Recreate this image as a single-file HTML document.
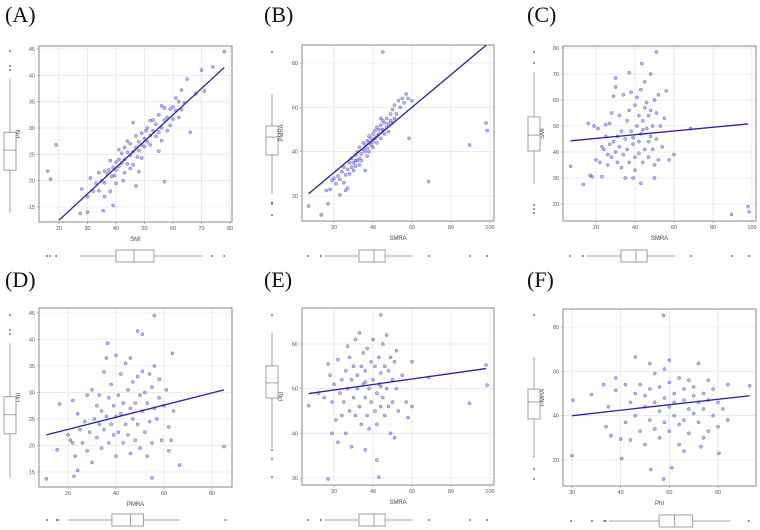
<!DOCTYPE html>
<html><head><meta charset="utf-8">
<style>
html,body{margin:0;padding:0;background:#fff;}
svg{display:block;}
.ttl{font-family:"Liberation Serif",serif;font-size:22px;fill:#111;}
.tk{font-family:"Liberation Sans",sans-serif;font-size:5.5px;fill:#555;}
.lb{font-family:"Liberation Sans",sans-serif;font-size:6px;fill:#444;}
</style></head>
<body>
<svg id="chart" width="760" height="530" viewBox="0 0 760 530"></svg>
<script>
// ---- data ----
const panelIds = ['A','B','C','D','E','F'];
const xLabels = ['SMI','SMRA','SMRA','PMRA','SMRA','PhI'];
const yLabels = ['PhI','PMRA','SMI','PhI','PhI','PMRA'];
const xTicksA = [20,30,40,50,60,70,80], yTicksA = [15,20,25,30,35,40,45];
const xTicksB = [20,40,60,80,100], yTicksB = [20,40,60,80];
const xTicksC = [20,40,60,80,100], yTicksC = [20,30,40,50,60,70,80];
const xTicksD = [20,40,60,80], yTicksD = [15,20,25,30,35,40,45];
const xTicksE = [20,40,60,80,100], yTicksE = [30,40,50,60];
const xTicksF = [30,40,50,60], yTicksF = [20,40,60,80];
const pointsA = [[16,21.8],[17,20.3],[19,26.8],[27.5,13.8],[30,14],[35.5,14.3],[39,15.3],[57,19.8],[47,19],[48,21.7],[66,29.2],[78,44.5],[70,41],[74,41.6],[68,36.5],[65,39.3],[71,37],[63,37.2],[61,35.7],[28,18.4],[30,17],[31,20.5],[32,18],[33,19.5],[34,18.1],[34,21.5],[35,20],[36,17],[36,19.6],[37,21.3],[37.5,22],[38,18],[38.5,20.8],[39,22.5],[39.5,21],[40,23.5],[40,22],[41,24],[41,22.7],[42,23.3],[42,25.2],[42.5,20],[43,24],[43,26.3],[44,23.2],[44,25.4],[45,24.8],[45,27],[46,25.5],[46,23],[47,26.3],[47,28.5],[47.5,24.5],[48,27.4],[48,25.7],[49,26.8],[49,29],[50,28],[50,26.5],[50.5,29.5],[51,27.4],[51,30],[52,28.6],[52,26.8],[53,29.5],[53,31.5],[54,28.4],[54,30.7],[55,29.2],[55,32.5],[56,30],[56,27.6],[57,31.5],[57,33.8],[58,32],[58,29.5],[59,33.6],[59,30.5],[60,34],[60,31.7],[61,33.3],[62,35],[62,32],[64,34.8],[63,33.5],[46,31],[44,27.5],[40,19.5],[36,21.8],[55,25.6],[49,24.3],[43,21.5],[38,23.8],[52,31.4],[56,34.2],[45,22.3],[41,25.9]];
const pointsB = [[7,15.5],[13.5,11.5],[17,16.5],[23,20.5],[45,85],[58.5,46],[68.5,26.5],[89.5,43],[98,53],[98.5,49.5],[16,22.5],[18,23],[19,27],[20,28],[21,25.5],[22,29],[23,27.5],[24,31],[25,26],[25,33],[26,22.5],[26,29.5],[27,23.5],[27,32],[28,30],[28,35],[29,33],[29,37],[30,31.5],[30,35],[31,38.5],[31,33.5],[32,36],[32,40],[33,37],[33,42],[34,39],[34,36],[35,41],[35,44],[36,40],[36,43],[36,31.5],[37,45],[37,41.5],[38,44],[38,47],[38,40],[39,43],[39,46],[40,48],[40,44.5],[41,46],[41,49.5],[42,47],[42,44],[43,50],[43,48],[44,52],[44,46],[45,50],[45,54],[46,48],[46,53],[47,51],[47,55],[48,52.5],[48,49],[49,54],[49,57],[50,53],[50,59],[51,55],[51,61],[52,57],[53,63],[54,60],[55,64],[56,62],[57,66],[58,64],[60,63],[45,49.5],[42,51],[40,42],[37,38],[33,34],[31,36],[44,55]];
const pointsC = [[7,34.5],[13.5,27.5],[51,78.5],[43.5,74],[89.5,16],[98,19],[98.5,17],[68.5,49],[60,39],[57.5,37],[16,51],[17,31],[18,30.5],[19,50],[20,37],[21,49],[22,36],[23,30.5],[23,42],[24,41],[25,46],[25,50.5],[26,35],[26,39],[27,43],[27,51],[28,38],[28,55],[29,61.5],[29,44],[30,40],[30,65],[30,68.5],[31,46],[31,36],[32,42],[32,54],[33,48],[33,34],[34,62],[34,39],[35,45],[35,30],[36,52],[36,41],[37,70.5],[37,56],[37,36],[38,48],[38,63],[39,43],[39,30],[40,58],[40,38],[40,33],[41,50],[41,61],[42,44],[42,54],[42,39.5],[43,47],[43,64],[43,28],[44,52],[44,36],[45,57],[45,41],[45,67],[46,49],[46,59],[47,44],[47,38],[47,54],[48,70],[48,56],[48,46],[49,50],[49,41],[50,60],[50,35],[51,45],[51,55],[52,62],[52,37],[53,50],[54,42],[55,53],[56,63.5],[50,30],[44,48.5],[39,45.5]];
const pointsD = [[11,13.7],[15.5,19.2],[16.5,27.8],[22.5,14.2],[24,15.3],[66.5,16.3],[85,19.8],[56,44.5],[49,41.6],[51,41],[36.5,39.3],[63.5,37.4],[55,13.9],[20,22],[21,21],[22,20.5],[22,28.5],[23,18],[24,26],[25,23],[26,20.5],[27,24.5],[28,19],[28,29.5],[29,22.5],[30,30.5],[30,16.8],[31,25],[32,21.5],[32,27.5],[33,24],[33,29.5],[34,19.5],[34,26.5],[35,23],[35,33.9],[36,25.5],[36,36.5],[37,20.5],[37,29],[38,24],[38,31.5],[39,22],[39,27.5],[40,25.5],[40,37],[40,18],[41,29.5],[41,22.5],[42,26],[42,33.5],[43,20.5],[43,28],[44,24],[44,35.5],[45,30.5],[45,22],[46,27],[46,18.5],[46,36.5],[47,25],[47,32],[48,28],[48,21],[49,24],[49,33],[50,29.5],[50,19.5],[51,26.5],[51,34],[52,22.5],[52,30],[53,28],[53,18],[54,33.5],[54,24.5],[55,31],[55,20.5],[56,27],[56,35],[57,25],[58,29],[59,21],[60,27.5],[61,30.5],[62,23.5],[63,21],[64,26.5],[62,19],[58,32.5]];
const pointsE = [[7,46.2],[17,29.8],[43,30.2],[42,34],[36,36.3],[44,66.5],[89.5,46.7],[98,55.3],[98.5,50.8],[68.5,52.5],[60,46],[12,49],[15,48],[17,55.5],[18,53],[19,40],[19,47],[20,51],[21,43],[22,56.5],[22,38],[23,49],[24,44],[24,52],[25,47],[26,40],[26,54],[27,50],[27,59.5],[28,45],[28,57],[29,52],[29,37],[30,55],[30,48],[31,61],[31,44],[32,50],[32,53],[33,62.5],[33,46],[34,55],[34,42],[35,51],[35,58],[36,48],[36,54],[37,44],[37,59],[38,50],[38,41],[39,56],[39,47],[40,52],[40,61],[41,45],[41,55],[42,49],[42,42],[43,57],[43,51],[44,46],[44,53.5],[45,60],[45,48],[46,55],[46,44],[47,50],[47,62],[48,54],[48,46],[49,57],[49,40],[50,52],[50,47],[51,56],[51,39],[52,50],[53,45],[55,53],[57,47],[58,43.5],[60,56],[52,58.5],[36,51.5],[44,50.5]];
const pointsF = [[30,22],[30.2,47],[40.2,20.7],[46.2,15.7],[48.8,11.4],[50.5,16.5],[48.8,85.2],[60.2,23],[66.5,53.5],[43,66.5],[34,49.5],[36.5,54],[37,35],[37.5,44],[38,31],[39,57],[39,51.5],[40,29.5],[41,37],[41,54],[42,46],[42,29],[43,40],[43,50],[44,33],[44,54],[45,44],[45,27],[45,49],[46,38],[46,52],[46,63.5],[47,46],[47,34],[47,59],[48,42],[48,53],[48,30],[49,48],[49,37],[49,61],[50,44],[50,55],[50,33],[50,65],[51,40],[51,50],[51,46],[52,57],[52,36],[52,27],[53,47],[53,52],[53,38],[54,43],[54,56],[54,32],[55,49],[55,41],[55,53],[56,46],[56,37],[56,63.5],[56.5,26],[57,50],[57,43],[58,47],[58,56],[58,33],[59,40],[59,52],[60,46],[60,35],[61,43],[62,54],[62,38],[57,30],[53,24]];
// regression line endpoints [x0,x1] and [y0,y1]
const fitXA=[20,78], fitYA=[12.5,41.5];
const fitXB=[7,98], fitYB=[21,88];
const fitXC=[7,98], fitYC=[44.3,50.8];
const fitXD=[11,85], fitYD=[22,30.5];
const fitXE=[7,98], fitYE=[48.9,54.5];
const fitXF=[30,66.5], fitYF=[40,49];
// boxplot stats [lowWhisker,q1,median,q3,highWhisker]
const xBoxA=[27.4,40,46.3,53.3,70.5], xOutA=[15.8,16.8,19,73.7,78];
const yBoxA=[13.9,22,25.8,29.2,39.3], yOutA=[41,41.8,44.6];
const xBoxB=[14.9,32.8,40.5,46.2,60.5], xOutB=[6.7,13.3,68.7,89.7,98.5];
const yBoxB=[20.9,38.5,46.6,51.6,66], yOutB=[11.4,16.4,17,85];
const xBoxC=[14.9,32.8,40.5,46.2,60.5], xOutC=[6.7,13.3,68.7,89.7,98.5];
const yBoxC=[27.7,40.4,46.5,53.5,70.8], yOutC=[16.5,18.1,19.6,74.2,78.5];
const xBoxD=[20,38.3,46.1,51.5,66.5], xOutD=[11.3,15.4,15.9,85.6];
const yBoxD=[13.9,22.2,25.8,29.2,39.3], yOutD=[41,41.8,44.6];
const xBoxE=[14.9,32.8,40.5,46.2,60.5], xOutE=[6.7,13.3,68.7,89.7,98.5];
const yBoxE=[36.7,47.9,51.3,55.1,62.5], yOutE=[30.2,34.3,36.3,66.5];
const xBoxF=[37.6,47.9,51.1,54.8,62.6], xOutF=[29.8,34.1,36.6,36.9,66.3];
const yBoxF=[20.9,38.5,46.2,52,66.5], yOutF=[11.4,16,85.4];

// ---- layout (pixel geometry, not data) ----
const layouts = [
 {tx:5,ty:22,L:39,R:232,T:46,B:222,xa:[20,80],xp:[59,230],ya:[15,45],yp:[207,49],vbx:10,hby:256},
 {tx:264,ty:22,L:302,R:494,T:45,B:221,xa:[20,100],xp:[334,490],ya:[20,80],yp:[196,63],vbx:272,hby:256},
 {tx:527,ty:22,L:563,R:756,T:46,B:221,xa:[20,100],xp:[596,752],ya:[20,80],yp:[204,48],vbx:534,hby:256},
 {tx:5,ty:287,L:39,R:232,T:308,B:487,xa:[20,80],xp:[68,212],ya:[15,45],yp:[472,313],vbx:10,hby:520},
 {tx:264,ty:287,L:302,R:494,T:308,B:485,xa:[20,100],xp:[334,490],ya:[30,60],yp:[478,344],vbx:272,hby:520},
 {tx:527,ty:287,L:563,R:756,T:309,B:486,xa:[30,60],xp:[572,718],ya:[20,80],yp:[460,327],vbx:534,hby:521}
];
const xTicks=[xTicksA,xTicksB,xTicksC,xTicksD,xTicksE,xTicksF];
const yTicks=[yTicksA,yTicksB,yTicksC,yTicksD,yTicksE,yTicksF];
const pts=[pointsA,pointsB,pointsC,pointsD,pointsE,pointsF];
const fx=[fitXA,fitXB,fitXC,fitXD,fitXE,fitXF], fy=[fitYA,fitYB,fitYC,fitYD,fitYE,fitYF];
const xb=[xBoxA,xBoxB,xBoxC,xBoxD,xBoxE,xBoxF], xo=[xOutA,xOutB,xOutC,xOutD,xOutE,xOutF];
const yb=[yBoxA,yBoxB,yBoxC,yBoxD,yBoxE,yBoxF], yo=[yOutA,yOutB,yOutC,yOutD,yOutE,yOutF];

const NS='http://www.w3.org/2000/svg';
const svg=document.getElementById('chart');
function mk(tag,attrs,parent){const e=document.createElementNS(NS,tag);for(const k in attrs)e.setAttribute(k,attrs[k]);(parent||svg).appendChild(e);return e;}

layouts.forEach((g,i)=>{
  const sx=v=>g.xp[0]+(v-g.xa[0])*(g.xp[1]-g.xp[0])/(g.xa[1]-g.xa[0]);
  const sy=v=>g.yp[0]+(v-g.ya[0])*(g.yp[1]-g.yp[0])/(g.ya[1]-g.ya[0]);
  const grp=mk('g',{});
  
  
  const t=mk('text',{x:g.tx,y:g.ty,class:'ttl'},grp); t.textContent='('+panelIds[i]+')';
  
  
  // grid
  xTicks[i].forEach(v=>{
    const l=mk('line',{x1:sx(v),x2:sx(v),y1:g.T,y2:g.B,stroke:'#e6e6e6','stroke-width':0.8},grp);
    
    
    const tl=mk('line',{x1:sx(v),x2:sx(v),y1:g.B,y2:g.B+2,stroke:'#888','stroke-width':0.6},grp);
    
    
    const tx=mk('text',{x:sx(v),y:g.B+8,class:'tk','text-anchor':'middle'},grp); tx.textContent=v;
    
    
  });
  yTicks[i].forEach(v=>{
    const l=mk('line',{x1:g.L,x2:g.R,y1:sy(v),y2:sy(v),stroke:'#e6e6e6','stroke-width':0.8},grp);
    
    
    const tl=mk('line',{x1:g.L-2,x2:g.L,y1:sy(v),y2:sy(v),stroke:'#888','stroke-width':0.6},grp);
    
    
    const ty=mk('text',{x:g.L-4,y:sy(v)+2,class:'tk','text-anchor':'end'},grp); ty.textContent=v;
    
    
  });
  const fr=mk('rect',{x:g.L,y:g.T,width:g.R-g.L,height:g.B-g.T,fill:'none',stroke:'#8a8a8a','stroke-width':1},grp);
  
  
  // points
  pts[i].forEach(p=>{
    const c=mk('circle',{cx:sx(p[0]),cy:sy(p[1]),r:1.6,fill:'rgba(90,90,235,0.45)',stroke:'rgba(50,50,190,0.6)','stroke-width':0.5},grp);
    
    
  });
  // regression line
  const rl=mk('line',{x1:sx(fx[i][0]),y1:sy(fy[i][0]),x2:sx(fx[i][1]),y2:sy(fy[i][1]),stroke:'#2222aa','stroke-width':1.3},grp);
  
  
  // axis labels
  const xl=mk('text',{x:(g.L+g.R)/2,y:g.B+19,class:'lb','text-anchor':'middle'},grp); xl.textContent=xLabels[i];
  
  
  const yx=g.L-19, yy=(g.T+g.B)/2;
  const yl=mk('text',{x:yx,y:yy,class:'lb','text-anchor':'middle',transform:`rotate(-90 ${yx} ${yy})`},grp); yl.textContent=yLabels[i];
  
  
  // horizontal boxplot (x marginal)
  const hb=xb[i], hy=g.hby, hs='#888';
  const hg=mk('g',{},grp);
  
  
  mk('line',{x1:sx(hb[0]),x2:sx(hb[1]),y1:hy,y2:hy,stroke:hs,'stroke-width':0.8},hg);
  mk('line',{x1:sx(hb[3]),x2:sx(hb[4]),y1:hy,y2:hy,stroke:hs,'stroke-width':0.8},hg);
  mk('rect',{x:sx(hb[1]),y:hy-6,width:sx(hb[3])-sx(hb[1]),height:12,fill:'#fff',stroke:hs,'stroke-width':0.8},hg);
  mk('line',{x1:sx(hb[2]),x2:sx(hb[2]),y1:hy-6,y2:hy+6,stroke:hs,'stroke-width':0.8},hg);
  xo[i].forEach(v=>mk('circle',{cx:sx(v),cy:hy,r:1,fill:'#777'},hg));
  // vertical boxplot (y marginal)
  const vb=yb[i], vx=g.vbx;
  const vg=mk('g',{},grp);
  
  
  mk('line',{x1:vx,x2:vx,y1:sy(vb[0]),y2:sy(vb[1]),stroke:hs,'stroke-width':0.8},vg);
  mk('line',{x1:vx,x2:vx,y1:sy(vb[3]),y2:sy(vb[4]),stroke:hs,'stroke-width':0.8},vg);
  mk('rect',{x:vx-6,y:sy(vb[3]),width:12,height:sy(vb[1])-sy(vb[3]),fill:'#fff',stroke:hs,'stroke-width':0.8},vg);
  mk('line',{x1:vx-6,x2:vx+6,y1:sy(vb[2]),y2:sy(vb[2]),stroke:hs,'stroke-width':0.8},vg);
  yo[i].forEach(v=>mk('circle',{cx:vx,cy:sy(v),r:1,fill:'#777'},vg));
});
</script>
</body></html>
